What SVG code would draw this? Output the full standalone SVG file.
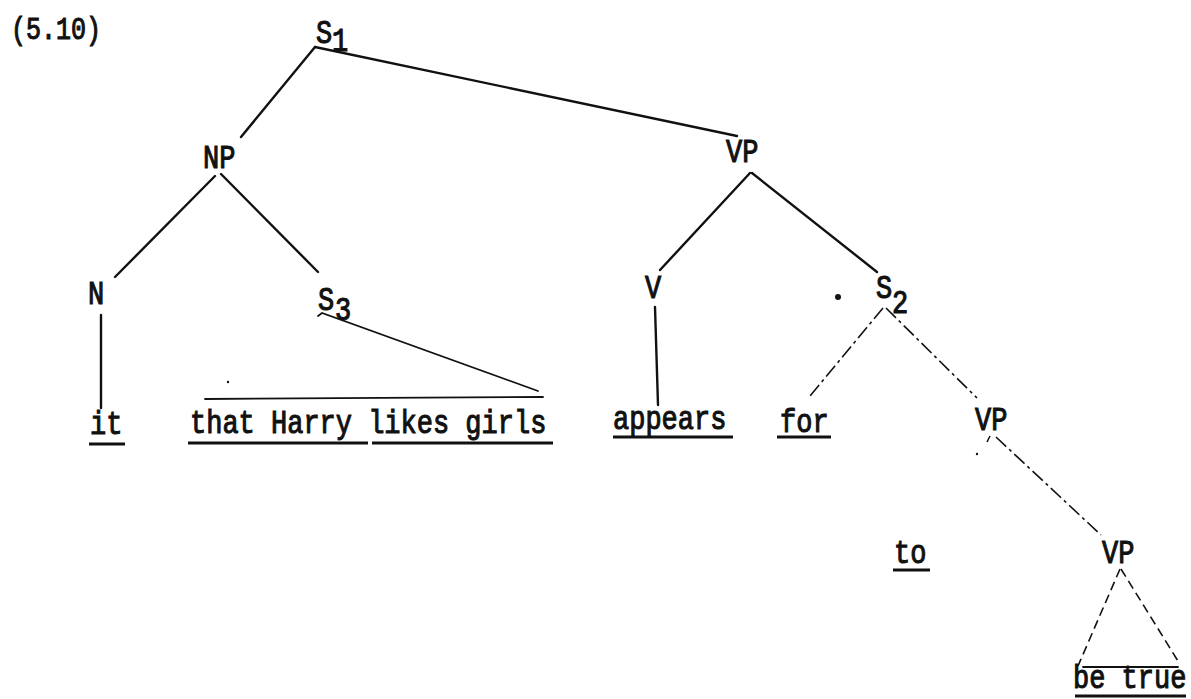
<svg xmlns="http://www.w3.org/2000/svg" width="1191" height="699" viewBox="0 0 1191 699">
<style>
  text { font-family: "Liberation Mono", "Courier New", monospace; font-size: 27px; fill: #111; stroke: #111; stroke-width: 0.9; }
  .hdr { font-size: 25px; }
  .ul { stroke: #111; stroke-width: 3; fill: none; }
  .solid { stroke: #111; stroke-width: 2.4; fill: none; stroke-linecap: round; }
  .thin { stroke: #111; stroke-width: 1.8; fill: none; stroke-linecap: round; }
  .dash { stroke: #111; stroke-width: 1.6; fill: none; stroke-dasharray: 14 4 3 4; }
  .dash2 { stroke: #111; stroke-width: 1.6; fill: none; stroke-dasharray: 9 5; }
</style>
<rect width="1191" height="699" fill="#fff"/>
<text class="hdr" transform="translate(11,39) scale(1,1.25)">(5.10)</text>

<g id="connectors">
  <path class="solid" d="M315,47 L241,137"/>
  <path class="solid" d="M315,47 L737,136"/>
  <path class="solid" d="M215,176 L115,277"/>
  <path class="solid" d="M221,174 L318,272"/>
  <path class="solid" d="M750,173 L660,270"/>
  <path class="solid" d="M752,173 L877,272"/>
  <path class="solid" d="M101,315 L101,408"/>
  <path class="solid" d="M655,307 L658,405"/>
  <path class="thin" d="M318,316 L322,313 L538,391"/>
  <path class="thin" d="M205,399 L543,397"/>
  <path class="dash" d="M883,308 L810,396"/>
  <path class="dash" d="M886,308 L977,398"/>
  <path class="dash" d="M990,436 L987,442"/>
  <path class="dash" d="M996,437 L1101,535"/>
  <path class="dash2" d="M1120,569 L1078,666"/>
  <path class="dash2" d="M1121,569 L1178,661"/>
  <path class="thin" d="M1083,667 L1178,667"/>
  <circle cx="228" cy="382" r="1.2" fill="#111"/>
  <circle cx="977" cy="454" r="1.2" fill="#111"/>
</g>

<g id="S1"><text transform="translate(316,43) scale(1,1.2)">S</text><text transform="translate(332,51) scale(1,1.2)">1</text></g>
<g id="NP"><text transform="translate(203,168) scale(1,1.2)">NP</text></g>
<g id="VP1"><text transform="translate(726,162) scale(1,1.2)">VP</text></g>
<g id="N"><text transform="translate(88,304) scale(1,1.2)">N</text></g>
<g id="S3"><text transform="translate(318,310) scale(1,1.2)">S</text><text transform="translate(335,320) scale(1,1.2)">3</text></g>
<g id="V"><text transform="translate(645,298) scale(1,1.2)">V</text></g>
<g id="dot"><circle cx="838" cy="297" r="3" fill="#111"/></g>
<g id="S2"><text transform="translate(876,298) scale(1,1.2)">S</text><text transform="translate(892,313) scale(1,1.2)">2</text></g>
<g id="it"><text transform="translate(90,434) scale(1,1.2)">it</text><line class="ul" x1="89" y1="444" x2="125" y2="444"/></g>
<g id="that"><text transform="translate(190,433) scale(1,1.2)">that Harry likes girls</text><line class="ul" x1="188" y1="443" x2="368" y2="443"/><line class="ul" x1="372" y1="443" x2="553" y2="443"/></g>
<g id="appears"><text transform="translate(613,429) scale(1,1.2)">appears</text><line class="ul" x1="613" y1="437" x2="733" y2="437"/></g>
<g id="for"><text transform="translate(780,432) scale(1,1.2)">for</text><line class="ul" x1="777" y1="437" x2="831" y2="437"/></g>
<g id="VP2"><text transform="translate(975,430) scale(1,1.2)">VP</text></g>
<g id="to"><text transform="translate(894,563) scale(1,1.2)">to</text><line class="ul" x1="893" y1="570" x2="930" y2="570"/></g>
<g id="VP3"><text transform="translate(1102,563) scale(1,1.2)">VP</text></g>
<g id="betrue"><text transform="translate(1073,688) scale(1,1.2)">be true</text><line class="ul" x1="1075" y1="696" x2="1186" y2="696"/></g>
</svg>
